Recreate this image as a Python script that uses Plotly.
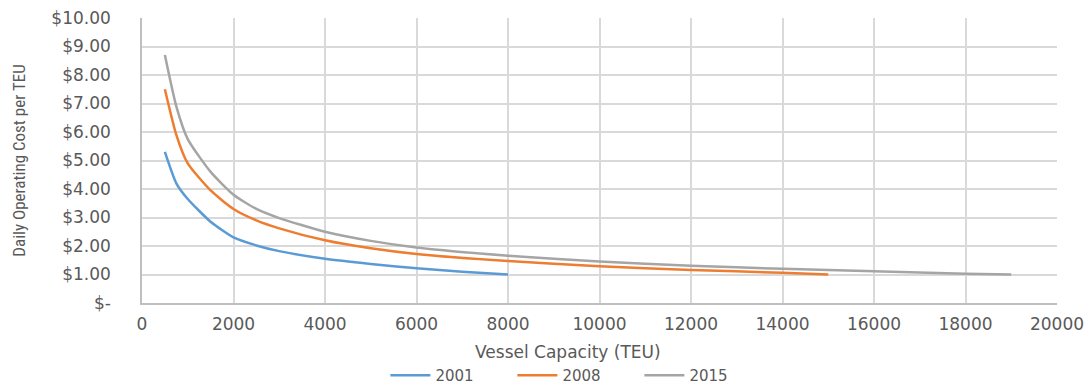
import plotly.graph_objects as go

# Vessel capacity (TEU) sample points and daily operating cost per TEU
cap_2001 = [500, 750, 1000, 1500, 2000, 2500, 3000, 4000, 5000, 6000, 7000, 8000]
cost_2001 = [5.30, 4.20, 3.65, 2.85, 2.30, 2.02, 1.82, 1.55, 1.37, 1.22, 1.10, 1.00]

cap_2008 = [500, 750, 1000, 1500, 2000, 2500, 3000, 4000, 5000, 6000, 8000, 10000, 12000, 14000, 15000]
cost_2008 = [7.50, 5.90, 4.90, 3.95, 3.30, 2.90, 2.62, 2.20, 1.92, 1.72, 1.47, 1.29, 1.16, 1.06, 1.00]

cap_2015 = [500, 750, 1000, 1500, 2000, 2500, 3000, 4000, 5000, 6000, 8000, 10000, 12000, 14000, 16000, 18000, 19000]
cost_2015 = [8.70, 6.90, 5.75, 4.60, 3.80, 3.30, 2.98, 2.50, 2.18, 1.95, 1.66, 1.46, 1.31, 1.20, 1.11, 1.03, 1.00]

y_tick_vals = [0, 1, 2, 3, 4, 5, 6, 7, 8, 9, 10]
y_tick_text = ["$-", "$1.00", "$2.00", "$3.00", "$4.00", "$5.00",
               "$6.00", "$7.00", "$8.00", "$9.00", "$10.00"]
x_tick_vals = [0, 2000, 4000, 6000, 8000, 10000, 12000, 14000, 16000, 18000, 20000]

series = [
    ("2001", cap_2001, cost_2001, "#5B9BD5"),
    ("2008", cap_2008, cost_2008, "#ED7D31"),
    ("2015", cap_2015, cost_2015, "#A5A5A5"),
]

fig = go.Figure()
for name, xs, ys, color in series:
    fig.add_trace(go.Scatter(
        x=xs, y=ys, name=name, mode="lines",
        line=dict(color=color, width=2.5, shape="spline", smoothing=0.6),
    ))

wide = "DejaVu Sans, Verdana, sans-serif"
tick_font = dict(family=wide, size=17, color="#595959")
grid = "#D9D9D9"

fig.update_layout(
    width=1089, height=385,
    margin=dict(l=142, r=32, t=18, b=82, autoexpand=False),
    paper_bgcolor="white", plot_bgcolor="white",
    showlegend=True,
    legend=dict(
        orientation="h", yref="container", x=0.266, xanchor="left",
        y=0.025, yanchor="middle",
        font=dict(family=wide, size=15, color="#595959"),
        entrywidth=72, entrywidthmode="pixels", itemwidth=40, tracegroupgap=0,
    ),
    xaxis=dict(
        range=[0, 20000], tickvals=x_tick_vals, ticktext=[str(v) for v in x_tick_vals],
        showgrid=True, gridcolor=grid, gridwidth=1.5,
        showline=True, linecolor="#BFBFBF", linewidth=1.5,
        zeroline=False, ticks="", ticklabelstandoff=5, tickfont=tick_font,
        automargin=False,
    ),
    yaxis=dict(
        range=[0, 10], tickvals=y_tick_vals, ticktext=y_tick_text,
        showgrid=True, gridcolor=grid, gridwidth=1.5,
        showline=True, linecolor="#BFBFBF", linewidth=1.5,
        zeroline=False, ticks="", ticklabelstandoff=26, tickfont=tick_font,
        automargin=False,
        title=dict(
            text="Daily Operating Cost per TEU",
            font=dict(family="Liberation Sans Narrow, Roboto Condensed, sans-serif",
                      size=17, color="#595959"),
            standoff=21,
        ),
    ),
    annotations=[dict(
        text="Vessel Capacity (TEU)", xref="paper", yref="paper",
        x=0.466, y=-0.172, xanchor="center", yanchor="middle", showarrow=False,
        font=dict(family=wide, size=17, color="#595959"),
    )],
)

fig.write_html("out.html")
